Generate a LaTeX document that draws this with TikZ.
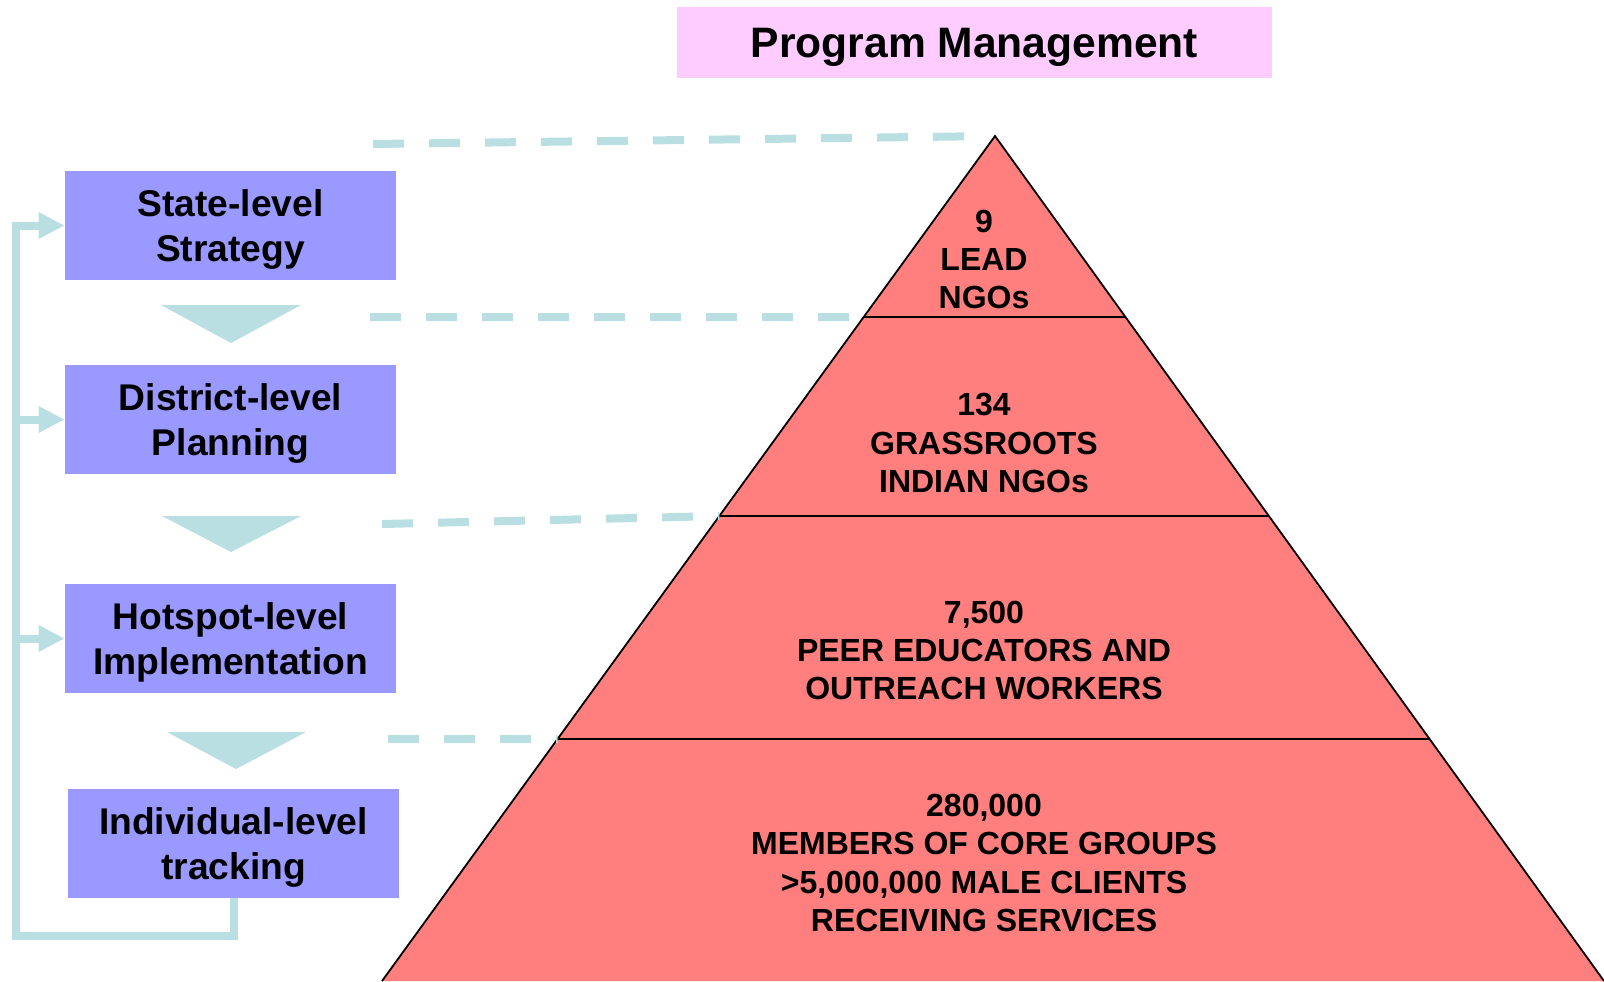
\documentclass[tikz,border=0pt]{standalone}
\usepackage{fontspec}
\setmainfont{Liberation Sans}
\usetikzlibrary{arrows.meta,calc}

\definecolor{boxblue}{HTML}{9999FF}
\definecolor{titlepink}{HTML}{FFCCFF}
\definecolor{layerred}{HTML}{FF7F7F}
\definecolor{linkteal}{HTML}{B9DFE2}

\tikzset{
    levelbox/.style={fill=boxblue, minimum width=165.5pt, minimum height=54.5pt,
        inner sep=0pt, text depth=0pt, align=center,
        font=\bfseries\fontsize{18.6}{22.5}\selectfont},
    tier/.style={align=center, font=\bfseries\fontsize{16}{19.2}\selectfont},
    guide/.style={linkteal, line width=4pt, dash pattern=on 15.5pt off 12.5pt},
    feedback/.style={linkteal, line width=4pt, -{Triangle[length=13pt,width=12.5pt]}}
}

\begin{document}
\begin{tikzpicture}[x=0.5pt, y=-0.5pt]
                \useasboundingbox (0,0) rectangle (1604,981);

                \node[fill=titlepink, minimum width=297.5pt, minimum height=35.5pt, text depth=0pt,
                    font=\bfseries\fontsize{21.3}{25}\selectfont] (title) at (974.5,42.5) {Program Management};

                \node[levelbox] (state) at (230.5,225.5) {State-level\\Strategy};
                \node[levelbox] (district) at (230.5,419.5) {District-level\\Planning};
                \node[levelbox] (hotspot) at (230.5,638.5) {Hotspot-level\\Implementation};
                \node[levelbox] (track) at (233.5,843.5) {Individual-level\\tracking};

                \fill[linkteal] (161,305) -- (301,305) -- (231,343) -- cycle;
                \fill[linkteal] (162,516) -- (301,516) -- (231,552) -- cycle;
                \fill[linkteal] (167,732) -- (306,732) -- (236,769) -- cycle;

                \coordinate (fbcorner) at (16,936);
                \draw[feedback] (track.south) |- (fbcorner) |- (state.west);
                \draw[feedback] (fbcorner |- district.west) -- (district.west);
                \draw[feedback] (fbcorner |- hotspot.west) -- (hotspot.west);

                \coordinate (apex) at (995,136);
                \coordinate (baseleft) at (382,981);
                \coordinate (baseright) at (1604,981);
                \fill[layerred] (apex) -- (baseleft) -- (baseright) -- cycle;
                \draw[line width=0.9pt] (baseleft) -- (apex) -- (baseright);
                \foreach \cut/\nm in {0.2142/1, 0.4497/2, 0.7136/3} {
                    \draw[line width=0.9pt] ($(apex)!\cut!(baseleft)$) coordinate (cut\nm)
                        -- ($(apex)!\cut!(baseright)$);
                }

                \coordinate (g1) at (373,144);
                \coordinate (g2) at (370,317);
                \coordinate (g3) at (382,524);
                \coordinate (g4) at (388,739);
                \draw[guide, shorten >=14pt] (g1) -- (apex);
                \draw[guide] (g2) -- (cut1);
                \draw[guide] (g3) -- (cut2);
                \draw[guide] (g4) -- (cut3);

                \node[tier] (lead) at (984,259.5) {9\\LEAD\\NGOs};
                \node[tier] (grass) at (984,443) {134\\GRASSROOTS\\INDIAN NGOs};
                \node[tier] (peer) at (984,650.5) {7,500\\PEER EDUCATORS AND\\OUTREACH WORKERS};
                \node[tier] (core) at (984,863) {280,000\\MEMBERS OF CORE GROUPS\\>5,000,000 MALE CLIENTS\\RECEIVING SERVICES};
\end{tikzpicture}
\end{document}
